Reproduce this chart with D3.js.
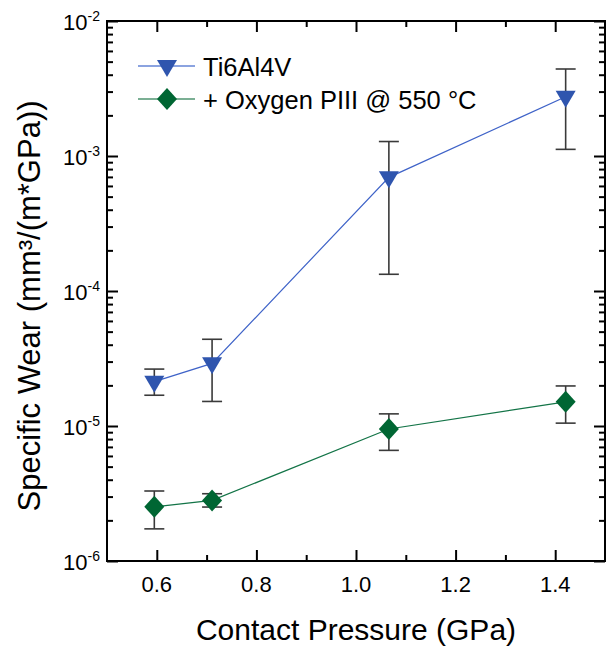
<!DOCTYPE html>
<html>
<head>
  <meta charset="utf-8" />
  <title>Specific Wear</title>
  <script src="https://cdnjs.cloudflare.com/ajax/libs/d3/7.8.5/d3.min.js"></script>
  <style>
    body { margin: 0; background: #fff; }
    text { font-family: "Liberation Sans", Arial, sans-serif; fill: #000; }
  </style>
</head>
<body>
  <svg id="chart" width="608" height="648"></svg>
  <script>
    // data
    const pressure = [0.595, 0.711, 1.066, 1.421]
    const tiWear = [2.13e-5, 2.91e-5, 6.95e-4, 2.75e-3]
    const tiHigh = [2.64e-5, 4.39e-5, 1.28e-3, 4.41e-3]
    const tiLow = [1.69e-5, 1.52e-5, 1.33e-4, 1.12e-3]
    const oxWear = [2.52e-6, 2.81e-6, 9.5e-6, 1.51e-5]
    const oxHigh = [3.30e-6, 3.15e-6, 1.23e-5, 1.98e-5]
    const oxLow = [1.73e-6, 2.51e-6, 6.6e-6, 1.05e-5]
    const xTicks = [0.6, 0.8, 1.0, 1.2, 1.4]
    const xMinor = [0.7, 0.9, 1.1, 1.3]
    const yDecades = [1e-6, 1e-5, 1e-4, 1e-3, 1e-2]
    const seriesNames = ['Ti6Al4V', '+ Oxygen PIII @ 550 °C']

    const plotLeft = 107, plotRight = 605, plotTop = 21, plotBottom = 561
    const svg = d3.select('#chart')

    const xScale = d3.scaleLinear().domain([0.5, 1.5]).range([plotLeft, plotRight])
    const yScale = d3.scaleLog().domain([1e-6, 1e-2]).range([plotBottom, plotTop])
    const yMinor = yScale.ticks().filter(function(d) {
      return Math.abs(Math.log10(d) - Math.round(Math.log10(d))) > 1e-6
    })

    function styleAxis(g) {
      g.select('.domain').remove()
      g.selectAll('line').attr('stroke', '#000').attr('stroke-width', 2)
      g.selectAll('text').remove()
    }

    // ticks pointing inward on all four sides
    svg.append('g').attr('transform', 'translate(0,' + plotBottom + ')')
      .call(d3.axisBottom(xScale).tickValues(xTicks).tickSize(-11)).call(styleAxis)
    svg.append('g').attr('transform', 'translate(0,' + plotBottom + ')')
      .call(d3.axisBottom(xScale).tickValues(xMinor).tickSize(-6)).call(styleAxis)
    svg.append('g').attr('transform', 'translate(0,' + plotTop + ')')
      .call(d3.axisTop(xScale).tickValues(xTicks).tickSize(-11)).call(styleAxis)
    svg.append('g').attr('transform', 'translate(0,' + plotTop + ')')
      .call(d3.axisTop(xScale).tickValues(xMinor).tickSize(-6)).call(styleAxis)
    svg.append('g').attr('transform', 'translate(' + plotLeft + ',0)')
      .call(d3.axisLeft(yScale).tickValues(yDecades).tickSize(-11)).call(styleAxis)
    svg.append('g').attr('transform', 'translate(' + plotLeft + ',0)')
      .call(d3.axisLeft(yScale).tickValues(yMinor).tickSize(-6)).call(styleAxis)
    svg.append('g').attr('transform', 'translate(' + plotRight + ',0)')
      .call(d3.axisRight(yScale).tickValues(yDecades).tickSize(-11)).call(styleAxis)
    svg.append('g').attr('transform', 'translate(' + plotRight + ',0)')
      .call(d3.axisRight(yScale).tickValues(yMinor).tickSize(-6)).call(styleAxis)

    svg.append('rect')
      .attr('x', plotLeft).attr('y', plotTop)
      .attr('width', plotRight - plotLeft).attr('height', plotBottom - plotTop)
      .attr('fill', 'none').attr('stroke', '#000').attr('stroke-width', 2)

    // tick labels
    svg.selectAll('text.xlab').data(xTicks).enter().append('text')
      .attr('class', 'xlab')
      .attr('x', function(d) { return xScale(d) })
      .attr('y', plotBottom + 31)
      .attr('text-anchor', 'middle')
      .style('font-size', '22px')
      .text(function(d) { return d.toFixed(1) })

    let ylab = svg.selectAll('text.ylab').data(yDecades).enter().append('text')
      .attr('class', 'ylab')
      .attr('x', 63)
      .attr('y', function(d) { return yScale(d) + 9 })
      .style('font-size', '22px')
    ylab.append('tspan').text('10')
    ylab.append('tspan').attr('dy', -9).style('font-size', '14px')
      .text(function(d) { return '-' + Math.round(-Math.log10(d)) })

    // axis titles
    svg.append('text')
      .attr('x', (plotLeft + plotRight) / 2).attr('y', 640)
      .attr('text-anchor', 'middle')
      .style('font-size', '30px')
      .text('Contact Pressure (GPa)')
    svg.append('text')
      .attr('transform', 'translate(40,306) rotate(-90)')
      .attr('text-anchor', 'middle')
      .style('font-size', '31px')
      .text('Specific Wear (mm³/(m*GPa))')

    const tiData = pressure.map(function(p, i) { return { x: p, y: tiWear[i], hi: tiHigh[i], lo: tiLow[i] } })
    const oxData = pressure.map(function(p, i) { return { x: p, y: oxWear[i], hi: oxHigh[i], lo: oxLow[i] } })

    let line = d3.line()
      .x(function(d) { return xScale(d.x) })
      .y(function(d) { return yScale(d.y) })

    svg.append('path').attr('d', line(tiData))
      .style('fill', 'none').style('stroke', '#3f63c8').style('stroke-width', 1.2)
    svg.append('path').attr('d', line(oxData))
      .style('fill', 'none').style('stroke', '#137447').style('stroke-width', 1.2)

    function errorBars(data, cls) {
      let g = svg.selectAll('g.' + cls).data(data).enter().append('g').attr('class', cls)
        .attr('stroke', '#3a3a3a').attr('stroke-width', 1.6)
      g.append('line')
        .attr('x1', function(d) { return xScale(d.x) }).attr('x2', function(d) { return xScale(d.x) })
        .attr('y1', function(d) { return yScale(d.hi) }).attr('y2', function(d) { return yScale(d.lo) })
      g.append('line')
        .attr('x1', function(d) { return xScale(d.x) - 10 }).attr('x2', function(d) { return xScale(d.x) + 10 })
        .attr('y1', function(d) { return yScale(d.hi) }).attr('y2', function(d) { return yScale(d.hi) })
      g.append('line')
        .attr('x1', function(d) { return xScale(d.x) - 10 }).attr('x2', function(d) { return xScale(d.x) + 10 })
        .attr('y1', function(d) { return yScale(d.lo) }).attr('y2', function(d) { return yScale(d.lo) })
    }
    errorBars(tiData, 'tierr')
    errorBars(oxData, 'oxerr')

    const triangle = 'M-10,-6L10,-6L0,11Z'
    const diamond = 'M0,-11L10,0L0,11L-10,0Z'

    svg.selectAll('path.ti').data(tiData).enter().append('path')
      .attr('class', 'ti')
      .attr('d', triangle)
      .attr('transform', function(d) { return 'translate(' + xScale(d.x) + ',' + yScale(d.y) + ')' })
      .style('fill', '#2f55ae')
    svg.selectAll('path.ox').data(oxData).enter().append('path')
      .attr('class', 'ox')
      .attr('d', diamond)
      .attr('transform', function(d) { return 'translate(' + xScale(d.x) + ',' + yScale(d.y) + ')' })
      .style('fill', '#006633')

    // legend
    const legendY = [66, 99]
    const legendLine = ['#6585d6', '#4f9470']
    const legendShape = [triangle, diamond]
    const legendFill = ['#2f55ae', '#006633']
    seriesNames.forEach(function(name, i) {
      svg.append('line')
        .attr('x1', 138).attr('x2', 195)
        .attr('y1', legendY[i]).attr('y2', legendY[i])
        .style('stroke', legendLine[i]).style('stroke-width', 1.5)
      svg.append('path')
        .attr('d', legendShape[i])
        .attr('transform', 'translate(167,' + legendY[i] + ')')
        .style('fill', legendFill[i])
      svg.append('text')
        .attr('x', 203).attr('y', legendY[i] + 9.5)
        .style('font-size', '25.5px')
        .text(name)
    })
  </script>
</body>
</html>
